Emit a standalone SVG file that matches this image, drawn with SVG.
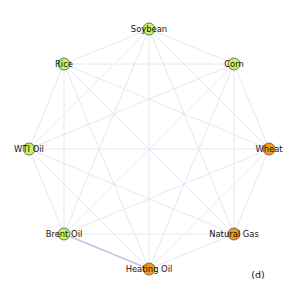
<svg xmlns="http://www.w3.org/2000/svg" width="299" height="299" viewBox="0 0 299 299">
<style>
.e{stroke:#e6e6f4;stroke-width:1;fill:none}
.s{stroke:#c2c2e6;stroke-width:1.4;fill:none}
.g{fill:#c6f45c;stroke:#555;stroke-width:0.8}
.o{fill:#f39a12;stroke:#555;stroke-width:0.8}
text{font-family:"DejaVu Sans",sans-serif;font-size:8.4px;fill:#111;text-anchor:middle}
</style>
<rect width="299" height="299" fill="#fff"/>
<g id="connectors">
<path class="e" d="M149,29L234,64M149,29L269,149M149,29L234,234M149,29L149,269M149,29L64,234M149,29L29,149M149,29L64,64
M234,64L269,149M234,64L234,234M234,64L149,269M234,64L64,234M234,64L29,149M234,64L64,64
M269,149L234,234M269,149L149,269M269,149L64,234M269,149L29,149M269,149L64,64
M234,234L149,269M234,234L64,234M234,234L29,149M234,234L64,64
M149,269L29,149M149,269L64,64
M64,234L29,149M64,234L64,64
M29,149L64,64"/>
<path class="s" d="M64,234L149,269"/>
</g>
<g id="soybean"><circle class="g" cx="149" cy="29" r="6"/><text x="149" y="32">Soybean</text></g>
<g id="corn"><circle class="g" cx="234" cy="64" r="6"/><text x="234" y="67">Corn</text></g>
<g id="wheat"><circle class="o" cx="269" cy="149" r="6"/><text x="269" y="152">Wheat</text></g>
<g id="natural-gas"><circle class="o" cx="234" cy="234" r="6"/><text x="234" y="237">Natural Gas</text></g>
<g id="heating-oil"><circle class="o" cx="149" cy="269" r="6"/><text x="149" y="272">Heating Oil</text></g>
<g id="brent-oil"><circle class="g" cx="64" cy="234" r="6"/><text x="64" y="237">Brent Oil</text></g>
<g id="wti-oil"><circle class="g" cx="29" cy="149" r="6"/><text x="29" y="152">WTI Oil</text></g>
<g id="rice"><circle class="g" cx="64" cy="64" r="6"/><text x="64" y="67">Rice</text></g>
<text x="258" y="278" style="font-size:9.5px">(d)</text>
</svg>
